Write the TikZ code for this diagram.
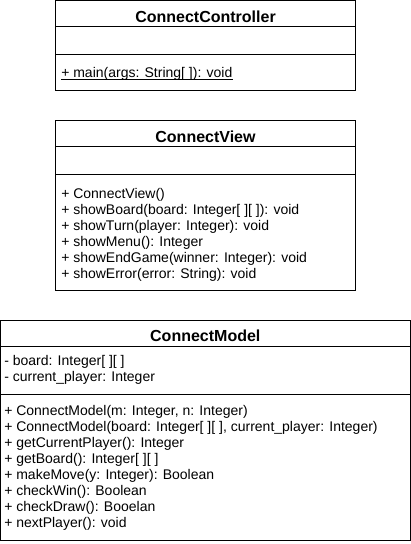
\documentclass[tikz,border=0pt]{standalone}
\usepackage{fontspec}
\setmainfont{Liberation Sans}
\usepackage{tikz}
\usetikzlibrary{positioning}

\tikzset{
  umlbox/.style={draw, line width=0.75pt},
  classname/.style={anchor=base, inner sep=0pt, font=\fontsize{12pt}{14pt}\selectfont\bfseries},
  member/.style={anchor=base west, inner sep=0pt, font=\fontsize{10.5pt}{12pt}\selectfont}
}

\begin{document}
\begin{tikzpicture}[x=0.75pt,y=-0.75pt]
            \useasboundingbox (0,0) rectangle (411,544);
            % ConnectController
            \draw [umlbox] (55.5,0.5) rectangle (355.5,90.5);
            \draw [umlbox] (55.5,26.5) -- (355.5,26.5);
            \draw [umlbox] (55.5,54.5) -- (355.5,54.5);
            \node [classname] (ctrl) at (205.5,22.3) {ConnectController};
            \node [member] (ctrl-main) at (61,77.3) {+ main(args: String[ ]): void};
            % static method, underlined
            \draw [line width=0.6pt] ([yshift=-1.3pt]ctrl-main.base west) -- ([yshift=-1.3pt]ctrl-main.base east);

            % ConnectView
            \draw [umlbox] (55.5,120.5) rectangle (355.5,290.5);
            \draw [umlbox] (55.5,146.5) -- (355.5,146.5);
            \draw [umlbox] (55.5,174.5) -- (355.5,174.5);
            \node [classname] (view) at (205.5,142.3) {ConnectView};
            \foreach \op [count=\i from 0] in {{+ ConnectView()},
                {+ showBoard(board: Integer[ ][ ]): void},
                {+ showTurn(player: Integer): void},
                {+ showMenu(): Integer},
                {+ showEndGame(winner: Integer): void},
                {+ showError(error: String): void}}
              \node [member] (view-op\i) at (61,198.3+16*\i) {\op};

            % ConnectModel
            \draw [umlbox] (0.5,320.5) rectangle (410.3,540.5);
            \draw [umlbox] (0.5,346.5) -- (410.3,346.5);
            \draw [umlbox] (0.5,394.5) -- (410.3,394.5);
            \node [classname] (model) at (205.3,341.7) {ConnectModel};
            \node [member] (model-attr0) at (4,365) {- board: Integer[ ][ ]};
            \node [member] (model-attr1) at (4,381) {- current\_player: Integer};
            \foreach \op [count=\i from 0] in {{+ ConnectModel(m: Integer, n: Integer)},
                {+ ConnectModel(board: Integer[ ][ ], current\_player: Integer)},
                {+ getCurrentPlayer(): Integer},
                {+ getBoard(): Integer[ ][ ]},
                {+ makeMove(y: Integer): Boolean},
                {+ checkWin(): Boolean},
                {+ checkDraw(): Booelan},
                {+ nextPlayer(): void}}
              \node [member] (model-op\i) at (4,415+16*\i) {\op};
        \end{tikzpicture}
\end{document}
